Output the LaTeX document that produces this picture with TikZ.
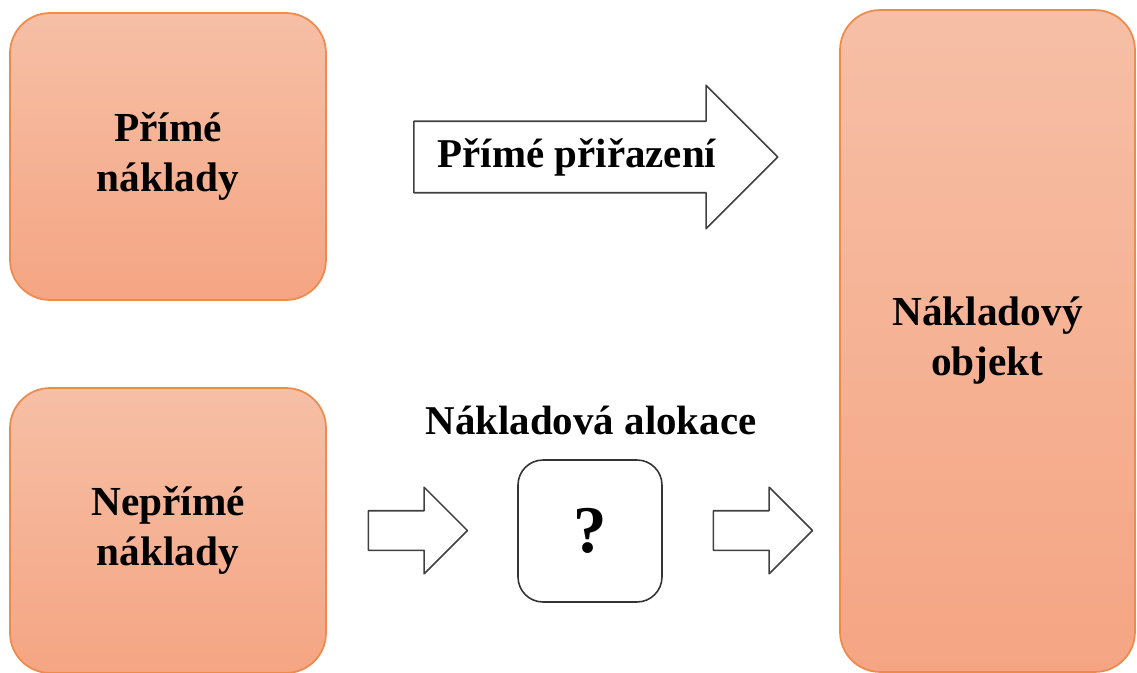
\documentclass[tikz,border=0pt]{standalone}
\usepackage{fontspec}
\setmainfont{Liberation Serif}
\usetikzlibrary{shapes.arrows}
\definecolor{costtop}{HTML}{F6BFA6}
\definecolor{costbot}{HTML}{F5A583}
\definecolor{costedge}{HTML}{EE8A4A}
\begin{document}
\begin{tikzpicture}[x=0.02cm, y=-0.02cm, line join=round,
    costbox/.style={draw=costedge, line width=1pt, rounded corners=0.8cm,
      top color=costtop, bottom color=costbot, align=center,
      font=\fontsize{23.5}{28.5}\selectfont\bfseries},
    blockarrow/.style={single arrow, draw=black!75, line width=0.9pt, fill=white,
      inner xsep=0pt, shape border uses incircle=false},
    lbl/.style={font=\fontsize{23.3}{28}\selectfont\bfseries}]
    \useasboundingbox (0,0) rectangle (1137,673);
    \node[costbox, minimum width=6.32cm, minimum height=5.74cm] (prime) at (168,156.5) {Přímé\\náklady};
    \node[costbox, minimum width=6.32cm, minimum height=5.7cm] (neprime) at (168,530.5) {Nepřímé\\náklady};
    \node[costbox, minimum width=5.9cm, minimum height=13.24cm] (objekt) at (987.5,341) {Nákladový\\objekt};
    \node[blockarrow, minimum height=7.28cm, inner ysep=0.7cm, single arrow head extend=0.72cm] (prirazeni) at (578,157) {};
    \node[lbl] (prirazenitext) at (577,157) {Přímé přiřazení};
    \node[draw=black!80, line width=0.9pt, rounded corners=0.5cm, minimum width=2.88cm, minimum height=2.84cm,
      font=\fontsize{38}{42}\selectfont\bfseries] (otaznik) at (590,531) {?};
    \node[lbl] (alokace) at (591,420) {Nákladová alokace};
    \node[blockarrow, minimum height=1.98cm, inner ysep=0.38cm, single arrow head extend=0.47cm] (vstup) at (408,530.5) {};
    \node[blockarrow, minimum height=1.98cm, inner ysep=0.38cm, single arrow head extend=0.47cm] (vystup) at (753,530.5) {};
\end{tikzpicture}
\end{document}
